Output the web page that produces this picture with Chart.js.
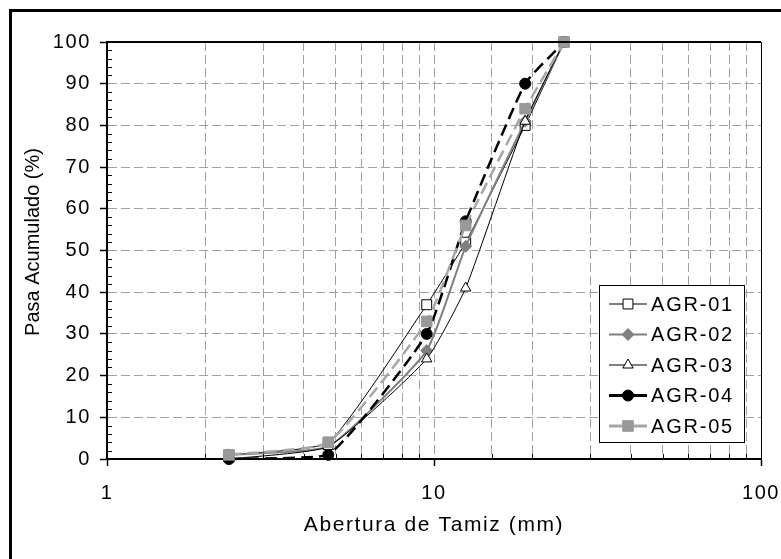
<!DOCTYPE html>
<html lang="es">
<head>
<meta charset="utf-8">
<title>Curva granulométrica</title>
<script src="https://cdn.jsdelivr.net/npm/chart.js@4.4.1/dist/chart.umd.min.js"></script>
<style>
    html, body { margin: 0; padding: 0; background: #fff; }
    body { width: 781px; height: 559px; overflow: hidden; position: relative; }
    #frame {
        position: absolute; left: 9px; top: 9px; width: 800px; height: 600px;
        border-left: 3px solid #000; border-top: 3px solid #000;
    }
    #wrap { position: absolute; left: 0; top: 0; width: 781px; height: 559px; }
</style>
</head>
<body>
<div id="frame"></div>
<div id="wrap"><canvas id="gradChart"></canvas></div>
<script>
// ========================================
// Data (sieve opening in mm, % passing)
// ========================================
const sieveSizes = [2.36, 4.75, 9.5, 12.5, 19, 25];
const agr01 = [1, 4, 37, 52, 80, 100];
const agr02 = [1, 3, 26, 51, 81, 100];
const agr03 = [0, 3, 24, 41, 81, 100];
const agr04 = [0, 1, 30, 57, 90, 100];
const agr05 = [1, 4, 33, 56, 84, 100];
const seriesNames = ['AGR-01', 'AGR-02', 'AGR-03', 'AGR-04', 'AGR-05'];
const xTickLabels = [1, 10, 100];
const yTickValues = [0, 10, 20, 30, 40, 50, 60, 70, 80, 90, 100];

const FONT = "'Liberation Sans', Arial, sans-serif";
const TEXT_SPACING = '1.6px';
const GRID_GREY = '#a0a0a0';

Chart.defaults.font.family = FONT;
Chart.defaults.color = '#000';

function toPoints(values) {
    return sieveSizes.map((size, i) => ({ x: size, y: values[i] }));
}

// Line / marker style of each series
const seriesStyles = [
    { borderColor: '#000', borderWidth: 1, pointStyle: 'rect', pointRadius: 7,
      pointBackgroundColor: '#fff', pointBorderColor: '#000', pointBorderWidth: 1 },
    { borderColor: '#808080', borderWidth: 2, pointStyle: 'rectRot', pointRadius: 6,
      pointBackgroundColor: '#808080', pointBorderColor: '#808080', pointBorderWidth: 1 },
    { borderColor: '#000', borderWidth: 1, pointStyle: 'triangle', pointRadius: 6,
      pointBackgroundColor: '#fff', pointBorderColor: '#000', pointBorderWidth: 1 },
    { borderColor: '#000', borderWidth: 2.5, borderDash: [12, 6], pointStyle: 'circle', pointRadius: 5.5,
      pointBackgroundColor: '#000', pointBorderColor: '#000', pointBorderWidth: 1 },
    { borderColor: '#a6a6a6', borderWidth: 2.5, borderDash: [12, 6], pointStyle: 'rect', pointRadius: 7.5,
      pointBackgroundColor: '#999', pointBorderColor: '#999', pointBorderWidth: 1 }
];
const legendLineWidths = [1, 2, 1, 3, 3];

const seriesValues = [agr01, agr02, agr03, agr04, agr05];
const datasets = seriesValues.map((values, i) => Object.assign({
    label: seriesNames[i],
    data: toPoints(values),
    tension: 0.15,
    fill: false,
    clip: false,
    order: seriesValues.length - i  // later series on top, like the original
}, seriesStyles[i]));

function isDecade(v) {
    return xTickLabels.includes(v);
}

// Extra decorations: plot frame, minor ticks, legend box, y title
const decorPlugin = {
    id: 'decor',
    beforeDraw(chart) {
        chart.ctx.letterSpacing = TEXT_SPACING;
    },
    afterDraw(chart) {
        const ctx = chart.ctx;
        const area = chart.chartArea;
        const xs = chart.scales.x;
        const ys = chart.scales.y;

        ctx.save();
        ctx.setLineDash([]);
        ctx.strokeStyle = '#000';

        // top and right edges of the plot area
        ctx.lineWidth = 2;
        ctx.beginPath();
        ctx.moveTo(area.left, area.top);
        ctx.lineTo(area.right, area.top);
        ctx.stroke();
        ctx.lineWidth = 1;
        ctx.beginPath();
        ctx.moveTo(Math.round(area.right) + 0.5, area.top);
        ctx.lineTo(Math.round(area.right) + 0.5, area.bottom);
        ctx.stroke();

        // minor ticks pointing inside
        ctx.lineWidth = 1;
        ctx.beginPath();
        for (let v = 2; v < 100; v += 2) {
            if (v % 10 === 0) continue;
            const py = Math.round(ys.getPixelForValue(v)) + 0.5;
            ctx.moveTo(area.left, py);
            ctx.lineTo(area.left + 5, py);
        }
        xs.ticks.forEach(t => {
            if (isDecade(t.value)) return;
            const px = Math.round(xs.getPixelForValue(t.value)) + 0.5;
            ctx.moveTo(px, area.bottom);
            ctx.lineTo(px, area.bottom - 5);
        });
        ctx.stroke();

        // legend box
        const box = { left: 599, top: 285, width: 145, height: 157 };
        ctx.fillStyle = '#fff';
        ctx.fillRect(box.left, box.top, box.width, box.height);
        ctx.strokeRect(box.left + 0.5, box.top + 0.5, box.width, box.height);

        ctx.font = '20px ' + FONT;
        ctx.textAlign = 'left';
        ctx.textBaseline = 'middle';
        ctx.letterSpacing = '1.8px';
        chart.data.datasets.forEach((ds, i) => {
            const rowY = box.top + 19 + i * 30.5;
            ctx.strokeStyle = ds.borderColor;
            ctx.lineWidth = legendLineWidths[i];
            ctx.beginPath();
            ctx.moveTo(box.left + 10, rowY);
            ctx.lineTo(box.left + 48, rowY);
            ctx.stroke();

            ctx.fillStyle = ds.pointBackgroundColor;
            ctx.strokeStyle = ds.pointBorderColor;
            ctx.lineWidth = ds.pointBorderWidth;
            Chart.helpers.drawPoint(ctx, {
                pointStyle: ds.pointStyle,
                radius: ds.pointRadius,
                rotation: 0,
                borderWidth: ds.pointBorderWidth
            }, box.left + 29, rowY);

            ctx.fillStyle = '#000';
            ctx.fillText(ds.label, box.left + 52, rowY + 1);
        });

        // y axis title (vertical)
        ctx.letterSpacing = '0px';
        ctx.translate(33, 242);
        ctx.rotate(-Math.PI / 2);
        ctx.textAlign = 'center';
        ctx.fillStyle = '#000';
        ctx.fillText('Pasa Acumulado (%)', 0, 0);
        ctx.restore();
        ctx.letterSpacing = '0px';
    }
};

// Initialize chart
document.addEventListener('DOMContentLoaded', function () {
    const chartCtx = document.getElementById('gradChart');

    new Chart(chartCtx, {
        type: 'line',
        data: { datasets: datasets },
        options: {
            responsive: true,
            maintainAspectRatio: false,
            animation: false,
            layout: { padding: { left: 12, top: 42, right: 20, bottom: 0 } },
            plugins: {
                legend: { display: false },
                tooltip: { enabled: false }
            },
            scales: {
                x: {
                    type: 'logarithmic',
                    min: 1,
                    max: 100,
                    afterFit(scale) {
                        scale.height = 100;
                        scale.paddingLeft = 0;
                        scale.paddingRight = 0;
                    },
                    grid: {
                        color: c => (c.tick && (c.tick.value === 1 || c.tick.value === 100)) ? 'transparent' : GRID_GREY,
                        lineWidth: 1,
                        tickLength: 7,
                        tickWidth: 1.5,
                        tickColor: c => (c.tick && isDecade(c.tick.value)) ? '#000' : 'transparent'
                    },
                    border: { display: true, color: '#000', width: 2, dash: [9, 4] },
                    ticks: {
                        autoSkip: false,
                        maxRotation: 0,
                        padding: 15,
                        color: '#000',
                        font: { size: 20 },
                        callback: value => isDecade(value) ? String(value) : ''
                    },
                    title: {
                        display: true,
                        text: 'Abertura de Tamiz (mm)',
                        color: '#000',
                        font: { size: 21 },
                        padding: { top: 4, bottom: 21 }
                    }
                },
                y: {
                    min: yTickValues[0],
                    max: yTickValues[yTickValues.length - 1],
                    afterFit(scale) { scale.width = 95; },
                    afterBuildTicks(scale) {
                        scale.ticks = yTickValues.map(v => ({ value: v }));
                    },
                    grid: {
                        color: c => (c.tick && (c.tick.value === 0 || c.tick.value === 100)) ? 'transparent' : GRID_GREY,
                        lineWidth: 1,
                        tickLength: 7,
                        tickWidth: 1.5,
                        tickColor: '#000'
                    },
                    border: { display: true, color: '#000', width: 2, dash: [9, 4] },
                    ticks: {
                        padding: 9,
                        color: '#000',
                        font: { size: 20 }
                    }
                }
            }
        },
        plugins: [decorPlugin]
    });
});
</script>
</body>
</html>
